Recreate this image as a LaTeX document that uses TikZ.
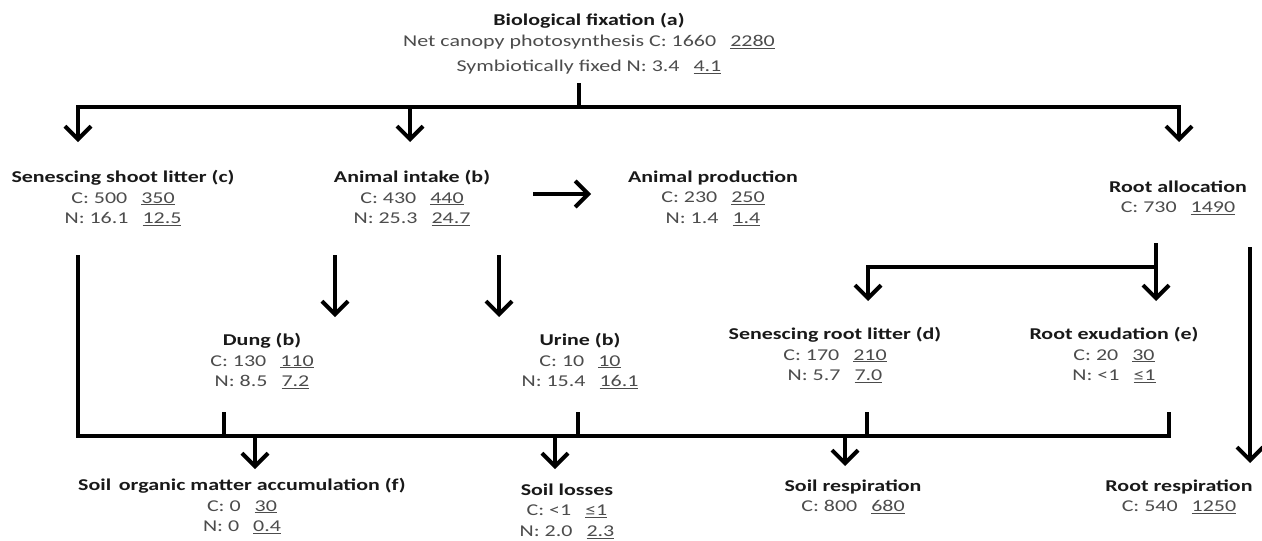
\documentclass[tikz,border=0pt]{standalone}
\usepackage{fontspec}
\setmainfont{Carlito}[FakeStretch=1.33]
\usetikzlibrary{arrows.meta}
\newcommand{\hd}[1]{\textbf{\color{black!90}#1}}
\newcommand{\uv}[1]{\underline{#1}}
\newcommand{\vv}{\hspace{0.85em}}
\begin{document}
\begin{tikzpicture}[x=1pt,y=-1pt,
  lab/.style={align=center, font=\fontsize{16.5}{20.5}\selectfont, text=black!70, inner sep=0pt},
  flow/.style={line width=4pt, draw=black},
  arr/.style={line width=4pt, draw=black, -{Straight Barb[length=13pt,width=26pt]}},
]
\useasboundingbox[fill=white] (0,0) rectangle (1262,541);
% nodes
\node[lab] (fix) at (589,44) {\hd{Biological fixation (a)}\\Net canopy photosynthesis C: 1660\vv\uv{2280}\\[5pt]Symbiotically fixed N: 3.4\vv\uv{4.1}};
\node[lab] (shoot) at (123,198) {\hd{Senescing shoot litter (c)}\\C: 500\vv\uv{350}\\N: 16.1\vv\uv{12.5}};
\node[lab] (intake) at (412,198) {\hd{Animal intake (b)}\\C: 430\vv\uv{440}\\N: 25.3\vv\uv{24.7}};
\node[lab] (prod) at (713,198) {\hd{Animal production}\\C: 230\vv\uv{250}\\N: 1.4\vv\uv{1.4}};
\node[lab] (ralloc) at (1178,198) {\hd{Root allocation}\\C: 730\vv\uv{1490}};
\node[lab] (dung) at (262,361) {\hd{Dung (b)}\\C: 130\vv\uv{110}\\N: 8.5\vv\uv{7.2}};
\node[lab] (urine) at (580,361) {\hd{Urine (b)}\\C: 10\vv\uv{10}\\N: 15.4\vv\uv{16.1}};
\node[lab] (rlitter) at (835,355) {\hd{Senescing root litter (d)}\\C: 170\vv\uv{210}\\N: 5.7\vv\uv{7.0}};
\node[lab] (rexud) at (1114,355) {\hd{Root exudation (e)}\\C: 20\vv\uv{30}\\N: <1\vv\uv{≤1}};
\node[lab] (som) at (242,506) {\hd{Soil\, organic matter accumulation (f)}\\C: 0\vv\uv{30}\\N: 0\vv\uv{0.4}};
\node[lab] (loss) at (567,511) {\hd{Soil losses}\\C: <1\vv\uv{≤1}\\N: 2.0\vv\uv{2.3}};
\node[lab] (sresp) at (853,497) {\hd{Soil respiration}\\C: 800\vv\uv{680}};
\node[lab] (rresp) at (1179,497) {\hd{Root respiration}\\C: 540\vv\uv{1250}};
% coordinates
\coordinate (fixS) at (579,83);
\coordinate (busM) at (579,107);
\coordinate (busI) at (410,107);
\coordinate (tShoot) at (78,142);
\coordinate (tIntake) at (410,142);
\coordinate (tRoot) at (1179,142);
\coordinate (prodA) at (533,194);
\coordinate (prodB) at (591,194);
\coordinate (shootL) at (78,255);
\coordinate (dungA) at (335,255);
\coordinate (urineA) at (499,255);
\coordinate (tDung) at (335,317);
\coordinate (tUrine) at (499,317);
\coordinate (raS) at (1156,243);
\coordinate (raJ) at (1156,267);
\coordinate (tExud) at (1156,301);
\coordinate (tLitter) at (868,301);
\coordinate (raR) at (1250,247);
\coordinate (tRresp) at (1250,463);
\coordinate (dungS) at (224,412);
\coordinate (urineS) at (578,412);
\coordinate (litterS) at (867,412);
\coordinate (exudS) at (1169,412);
\coordinate (busB) at (78,436);
\coordinate (somA) at (255,436);
\coordinate (lossA) at (555,436);
\coordinate (srespA) at (845,436);
\coordinate (tSom) at (255,469);
\coordinate (tLoss) at (555,469);
\coordinate (tSresp) at (845,466);
% connectors
\draw[flow] (fixS) -- (busM);
\draw[arr] (busM) -| (tShoot);
\draw[arr] (busM) -| (tRoot);
\draw[arr] (busI) -- (tIntake);
\draw[arr] (prodA) -- (prodB);
\draw[arr] (dungA) -- (tDung);
\draw[arr] (urineA) -- (tUrine);
\draw[arr] (raS) -- (tExud);
\draw[arr] (raJ) -| (tLitter);
\draw[arr] (raR) -- (tRresp);
\draw[flow] (shootL) |- (busB -| exudS) -- (exudS);
\draw[flow] (dungS) -- (dungS |- busB);
\draw[flow] (urineS) -- (urineS |- busB);
\draw[flow] (litterS) -- (litterS |- busB);
\draw[arr] (somA) -- (tSom);
\draw[arr] (lossA) -- (tLoss);
\draw[arr] (srespA) -- (tSresp);
\end{tikzpicture}
\end{document}
